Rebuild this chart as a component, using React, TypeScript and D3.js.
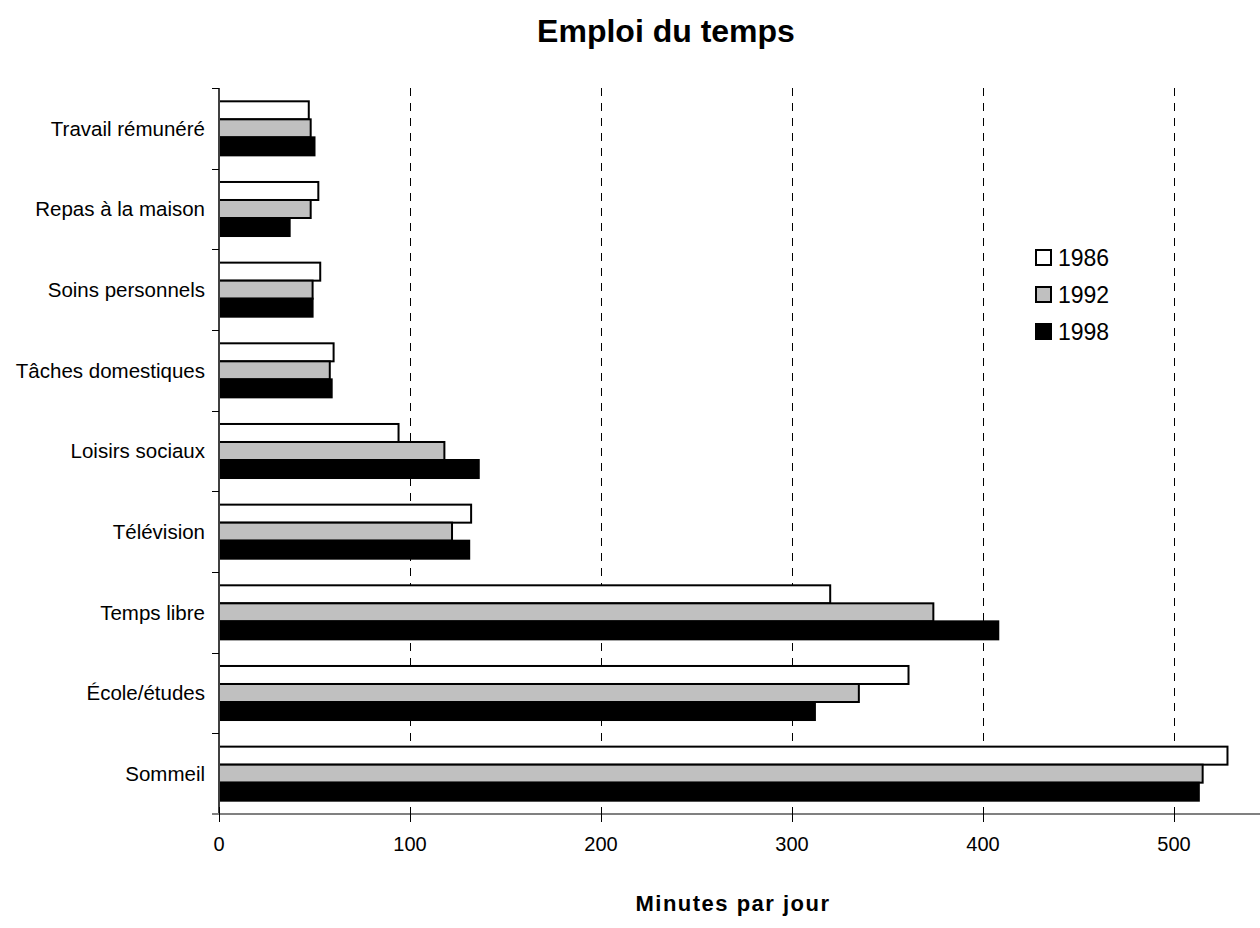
import React from 'react';
import * as d3 from 'd3';

const categories = [
  'Travail rémunéré',
  'Repas à la maison',
  'Soins personnels',
  'Tâches domestiques',
  'Loisirs sociaux',
  'Télévision',
  'Temps libre',
  'École/études',
  'Sommeil',
];
const years = ['1986', '1992', '1998'];
const values1986 = [47, 52, 53, 60, 94, 132, 320, 361, 528];
const values1992 = [48, 48, 49, 58, 118, 122, 374, 335, 515];
const values1998 = [50, 37, 49, 59, 136, 131, 408, 312, 513];
const xTicks = [0, 100, 200, 300, 400, 500];
const fills = ['#ffffff', '#c0c0c0', '#000000'];

const W = 1260;
const H = 928;
const font = '"Liberation Sans", Arial, sans-serif';

const App = () => {
  const series = [values1986, values1992, values1998];

  const x = d3.scaleLinear().domain([0, 500]).range([219, 1174]);
  const y = d3
    .scaleBand<string>()
    .domain(categories)
    .range([88, 814])
    .paddingInner(0.33)
    .paddingOuter(0.165);
  const sub = d3.scaleBand<string>().domain(years).range([0, y.bandwidth()]);

  const step = y.step();
  const top = 88;
  const bottom = 814;
  const boundaries = d3.range(categories.length + 1).map((i) => top + i * step);
  // crisp 1px lines
  const px = (v: number) => Math.round(v) + 0.5;

  return (
    <svg
      width={W}
      height={H}
      style={{ position: 'absolute', left: 0, top: 0, background: '#fff' }}
      fontFamily={font}
    >
      {/* Title */}
      <text x={666} y={42} textAnchor="middle" fontSize={32} fontWeight="bold">
        Emploi du temps
      </text>

      {/* Dashed gridlines */}
      {xTicks.slice(1).map((t) => (
        <line
          key={'g' + t}
          x1={px(x(t))}
          x2={px(x(t))}
          y1={top}
          y2={bottom}
          stroke="#000"
          strokeWidth={1}
          strokeDasharray="8,7"
        />
      ))}

      {/* Bars */}
      {categories.map((c, i) => (
        <g key={c} transform={`translate(0,${y(c)})`}>
          {years.map((yr, j) => (
            <rect
              key={yr}
              x={x(0)}
              y={sub(yr)}
              width={x(series[j][i]) - x(0)}
              height={sub.bandwidth()}
              fill={fills[j]}
              stroke="#000"
              strokeWidth={2}
            />
          ))}
        </g>
      ))}

      {/* Y axis */}
      <line x1={219} x2={219} y1={top} y2={bottom} stroke="#404040" strokeWidth={2} />
      {boundaries.map((b, i) => (
        <line key={'yt' + i} x1={212} x2={219} y1={px(b)} y2={px(b)} stroke="#000" strokeWidth={1} />
      ))}
      {categories.map((c) => (
        <text
          key={'l' + c}
          x={205}
          y={(y(c) as number) + y.bandwidth() / 2}
          dy="0.35em"
          textAnchor="end"
          fontSize={20.5}
        >
          {c}
        </text>
      ))}

      {/* X axis */}
      <line x1={212} x2={W} y1={bottom} y2={bottom} stroke="#808080" strokeWidth={2} />
      {xTicks.map((t) => (
        <g key={'xt' + t}>
          <line x1={px(x(t))} x2={px(x(t))} y1={bottom - 7} y2={bottom + 8} stroke="#000" strokeWidth={1} />
          <text x={x(t)} y={851} textAnchor="middle" fontSize={20}>
            {t}
          </text>
        </g>
      ))}
      <text x={733} y={911} textAnchor="middle" fontSize={22} fontWeight="bold" letterSpacing={1.5}>
        Minutes par jour
      </text>

      {/* Legend */}
      {years.map((yr, j) => (
        <g key={'lg' + yr} transform={`translate(1036,${250 + j * 37})`}>
          <rect x={0} y={0} width={15} height={15} fill={fills[j]} stroke="#000" strokeWidth={2} />
          <text x={22} y={7.5} dy="0.36em" fontSize={23}>
            {yr}
          </text>
        </g>
      ))}
    </svg>
  );
};

export default App;
